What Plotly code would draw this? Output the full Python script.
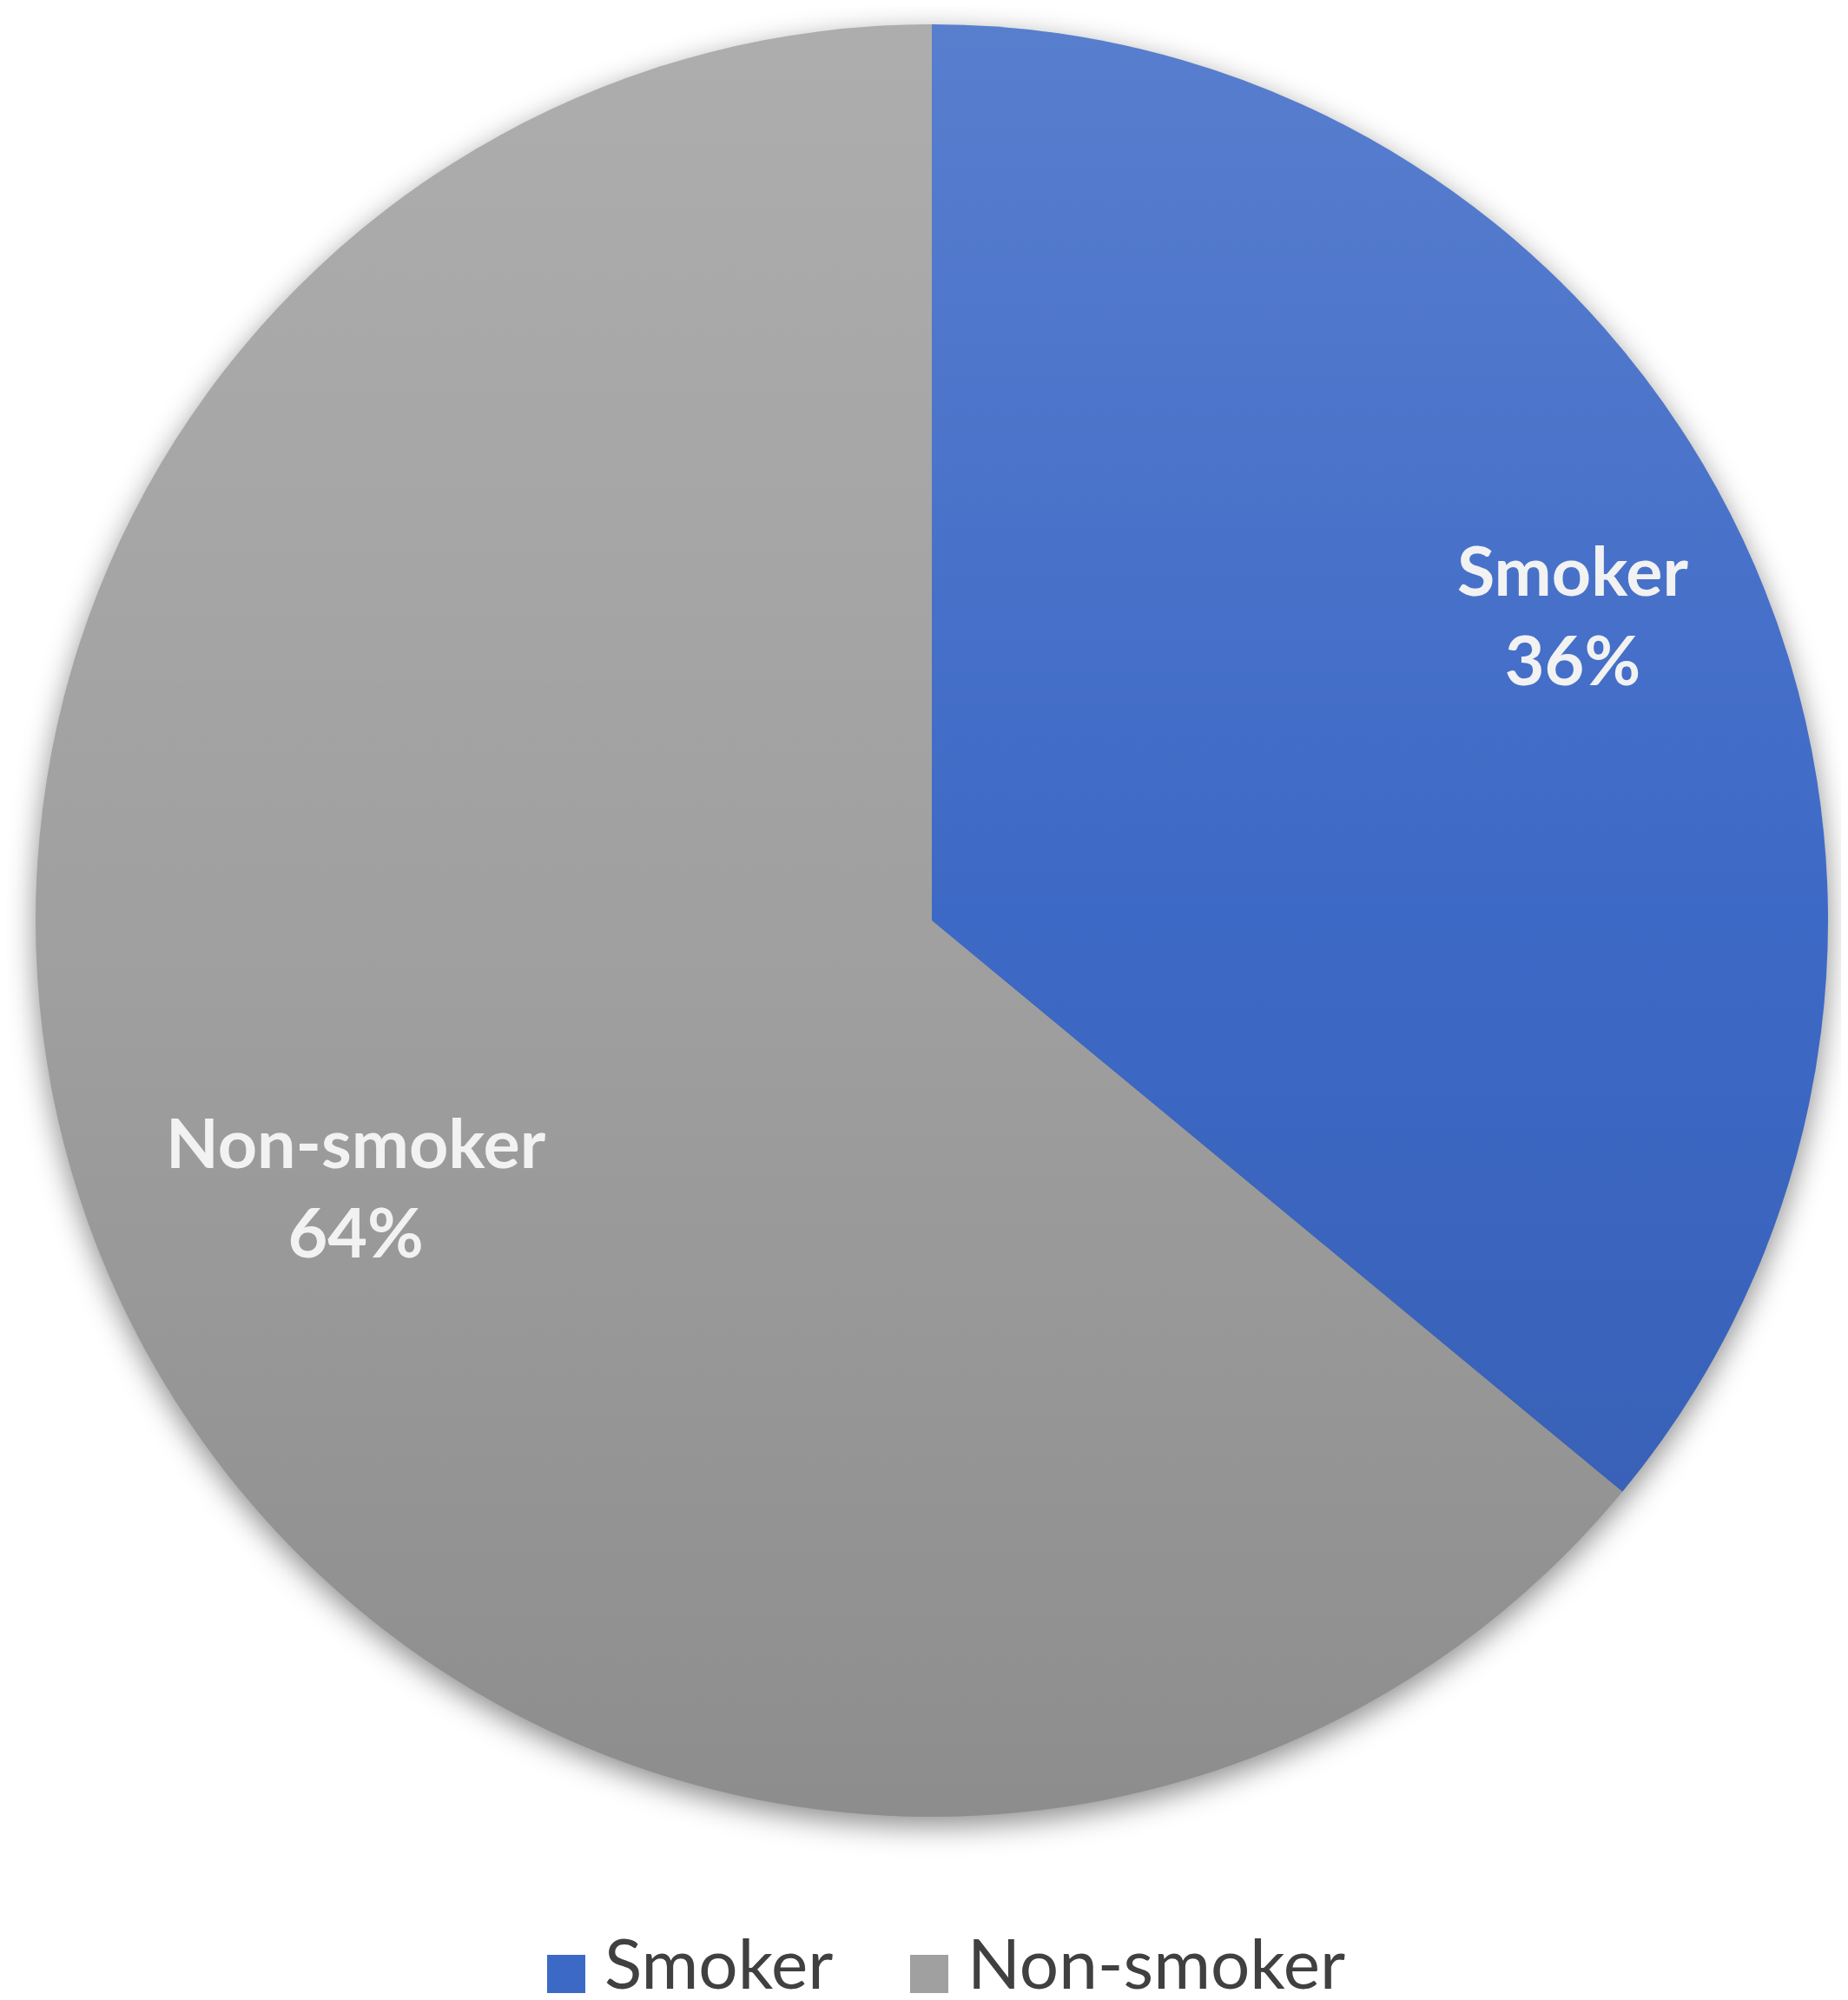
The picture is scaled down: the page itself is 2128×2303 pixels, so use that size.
import math
import base64
import plotly.graph_objects as go

# data
labels = ["Smoker", "Non-smoker"]
values = [36, 64]
colors = ["#3D69C6", "#A0A0A0"]

# page geometry (pixels)
W, H = 2128, 2303
CX, CY, R = 1065, 1052, 1032
LABEL_RADIUS = [0.79, 0.71]      # where the in-slice labels sit, as share of radius
LEGEND_X = [622, 1040]           # left edge of each legend swatch
LEGEND_Y = 2265
SWATCH = 44
FONT = "Lato, Carlito, 'Open Sans', sans-serif"


def to_paper(x, y):
    return x / W, 1 - y / H


def svg_uri(svg):
    return "data:image/svg+xml;base64," + base64.b64encode(svg.encode()).decode()


x0, y0 = to_paper(CX - R, CY + R)
x1, y1 = to_paper(CX + R, CY - R)

fig = go.Figure()
fig.add_trace(go.Pie(
    labels=labels,
    values=values,
    sort=False,
    direction="clockwise",
    rotation=0,
    marker=dict(colors=colors, line=dict(width=0)),
    textinfo="none",
    hoverinfo="label+percent",
    domain=dict(x=[x0, x1], y=[y0, y1]),
    showlegend=False,
))

# slice labels, placed from the cumulative share of each slice
total = sum(values)
cum = 0
annotations = []
for lab, val, rf in zip(labels, values, LABEL_RADIUS):
    mid = (cum + val / 2) / total * 2 * math.pi
    cum += val
    ax, ay = to_paper(CX + R * rf * math.sin(mid), CY - R * rf * math.cos(mid) - 6)
    annotations.append(dict(
        x=ax, y=ay, xref="paper", yref="paper", showarrow=False,
        text=f"<b>{lab}</b><br><b>{round(val / total * 100)}%</b>",
        font=dict(family=FONT, size=79, color="#F2F2F2"),
        align="center", xanchor="center", yanchor="middle",
    ))

# legend drawn by hand so the swatches can be as large as in the original
shapes = []
for lab, col, lx in zip(labels, colors, LEGEND_X):
    sx0, sy0 = to_paper(lx, LEGEND_Y + SWATCH / 2)
    sx1, sy1 = to_paper(lx + SWATCH, LEGEND_Y - SWATCH / 2)
    shapes.append(dict(type="rect", xref="paper", yref="paper",
                       x0=sx0, y0=sy0, x1=sx1, y1=sy1,
                       fillcolor=col, line=dict(width=0)))
    tx, ty = to_paper(lx + SWATCH + 20, H - 2)
    annotations.append(dict(
        x=tx, y=ty, xref="paper", yref="paper", showarrow=False,
        text=lab, font=dict(family=FONT, size=80, color="#404040"),
        xanchor="left", yanchor="bottom",
    ))

# soft shading on the pie and a drop shadow under it
shade = (
    "<svg xmlns='http://www.w3.org/2000/svg' width='100' height='100' viewBox='0 0 100 100'>"
    "<defs><linearGradient id='g' x1='0' y1='0' x2='0' y2='1'>"
    "<stop offset='0' stop-color='#fff' stop-opacity='0.14'/>"
    "<stop offset='0.5' stop-color='#fff' stop-opacity='0'/>"
    "<stop offset='0.5' stop-color='#000' stop-opacity='0'/>"
    "<stop offset='1' stop-color='#000' stop-opacity='0.12'/>"
    "</linearGradient></defs>"
    "<circle cx='50' cy='50' r='50' fill='url(#g)'/></svg>"
)
shadow = (
    "<svg xmlns='http://www.w3.org/2000/svg' width='120' height='120' viewBox='0 0 120 120'>"
    "<defs><filter id='b' x='-20%' y='-20%' width='140%' height='140%'>"
    "<feGaussianBlur stdDeviation='0.8'/></filter></defs>"
    "<circle cx='60' cy='60.5' r='50' fill='#000' fill-opacity='0.45' filter='url(#b)'/></svg>"
)

images = [
    dict(source=svg_uri(shadow), xref="paper", yref="paper",
         x=(CX - 1.2 * R) / W, y=1 - (CY - 1.2 * R) / H,
         sizex=2.4 * R / W, sizey=2.4 * R / H,
         xanchor="left", yanchor="top", sizing="stretch", layer="below"),
    dict(source=svg_uri(shade), xref="paper", yref="paper",
         x=x0, y=y1, sizex=x1 - x0, sizey=y1 - y0,
         xanchor="left", yanchor="top", sizing="stretch", layer="above"),
]

fig.update_layout(
    width=W,
    height=H,
    margin=dict(l=0, r=0, t=0, b=0),
    paper_bgcolor="white",
    plot_bgcolor="white",
    annotations=annotations,
    shapes=shapes,
    images=images,
    showlegend=False,
)

fig.write_html("out.html")
